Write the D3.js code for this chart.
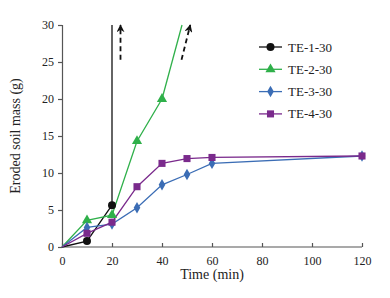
<!DOCTYPE html>
<html>
<head>
<meta charset="utf-8">
<script src="https://cdn.jsdelivr.net/npm/d3@7"></script>
<style>
    body { margin: 0; background: #fff; }
    svg { display: block; font-family: "Liberation Serif", "Times New Roman", serif; }
</style>
</head>
<body>
<svg id="chart" width="390" height="298"></svg>
<script>
// measured times (min)
const times = [0, 10, 20, 30, 40, 50, 60, 120];
const te1 = [0, 0.8, 5.65];
const te2 = [0, 3.6, 4.3, 14.3, 20.0];
const te3 = [0, 2.65, 3.1, 5.3, 8.4, 9.8, 11.3, 12.3];
const te4 = [0, 1.85, 3.35, 8.15, 11.3, 11.95, 12.1, 12.3];
// line runs off the top of the plot after the last measured point
const te1Tail = [[20, 5.65], [20, 30]];
const te2Tail = [[40, 20.0], [48, 30]];
// dashed arrows [x0, y0, x1, y1]
const arrows = [[23.4, 25.3, 23.4, 30], [47.8, 25.3, 51.3, 30]];
const xTicks = [0, 20, 40, 60, 80, 100, 120];
const yTicks = [0, 5, 10, 15, 20, 25, 30];

const seriesNames = ["TE-1-30", "TE-2-30", "TE-3-30", "TE-4-30"];
const seriesColors = ["#111111", "#2fb04a", "#3b6db5", "#7a2a8c"];
const seriesShapes = [d3.symbolCircle, d3.symbolTriangle, d3.symbolDiamond, d3.symbolSquare];
const seriesSizes = [50, 45, 38, 50];

const margin = {top: 25, right: 28, bottom: 51, left: 62};
const width = 390 - margin.left - margin.right;
const height = 298 - margin.top - margin.bottom;

const svg = d3.select("#chart");
const g = svg.append("g").attr("transform", `translate(${margin.left},${margin.top})`);

const x = d3.scaleLinear().domain([0, 120]).range([0, width]);
const y = d3.scaleLinear().domain([0, 30]).range([height, 0]);

const axisColor = "#555";

// y axis
const yAxis = g.append("g")
        .call(d3.axisLeft(y).tickValues(yTicks).tickSize(4).tickPadding(4));
yAxis.selectAll("text").attr("font-size", 12).attr("fill", "#222").attr("font-family", "Liberation Serif");
yAxis.selectAll("line, path").attr("stroke", axisColor).attr("stroke-width", 1.2);

// x axis, ticks pointing up into the plot
const xAxis = g.append("g")
        .attr("transform", `translate(0,${height})`)
        .call(d3.axisBottom(x).tickValues(xTicks).tickSizeInner(-4).tickSizeOuter(0).tickPadding(9));
xAxis.selectAll("text").attr("font-size", 12).attr("fill", "#222").attr("font-family", "Liberation Serif");
xAxis.selectAll("line, path").attr("stroke", axisColor).attr("stroke-width", 1.2);
xAxis.select(".domain").attr("d", `M0,0H${width}`);

svg.append("text")
        .attr("x", margin.left + width / 2)
        .attr("y", 279)
        .attr("text-anchor", "middle")
        .attr("font-size", 14)
        .attr("fill", "#222")
        .text("Time (min)");

svg.append("text")
        .attr("transform", `translate(20,${margin.top + height / 2}) rotate(-90)`)
        .attr("text-anchor", "middle")
        .attr("font-size", 14)
        .attr("fill", "#222")
        .text("Eroded soil mass (g)");

const line = d3.line().x(d => x(d[0])).y(d => y(d[1]));
const allSeries = [te1, te2, te3, te4].map(vals => vals.map((v, i) => [times[i], v]));

const plot = g.append("g");

plot.append("path").datum(te1Tail).attr("d", line)
        .attr("fill", "none").attr("stroke", seriesColors[0]).attr("stroke-width", 1.3);
plot.append("path").datum(te2Tail).attr("d", line)
        .attr("fill", "none").attr("stroke", seriesColors[1]).attr("stroke-width", 1.3);

allSeries.forEach((pts, k) => {
    plot.append("path").datum(pts).attr("d", line)
            .attr("fill", "none").attr("stroke", seriesColors[k]).attr("stroke-width", 1.3);
});

allSeries.forEach((pts, k) => {
    plot.selectAll(".m" + k)
            .data(pts.slice(1))
            .enter().append("path")
            .attr("class", "m" + k)
            .attr("transform", d => `translate(${x(d[0])},${y(d[1])})`)
            .attr("d", d3.symbol().type(seriesShapes[k]).size(seriesSizes[k]))
            .attr("fill", seriesColors[k]);
});

// dashed arrows with small filled heads
svg.append("defs").append("marker")
        .attr("id", "arrowhead")
        .attr("viewBox", "0 0 10 10")
        .attr("refX", 9).attr("refY", 5)
        .attr("markerUnits", "userSpaceOnUse")
        .attr("markerWidth", 8).attr("markerHeight", 8)
        .attr("orient", "auto")
        .append("path")
        .attr("d", "M0,0L10,5L0,10L3,5Z")
        .attr("fill", "#111");

g.selectAll(".arrow")
        .data(arrows)
        .enter().append("line")
        .attr("class", "arrow")
        .attr("x1", d => x(d[0])).attr("y1", d => y(d[1]))
        .attr("x2", d => x(d[2])).attr("y2", d => y(d[3]))
        .attr("stroke", "#111")
        .attr("stroke-width", 1.8)
        .attr("stroke-dasharray", "5,3.5")
        .attr("marker-end", "url(#arrowhead)");

// legend
const legend = svg.selectAll(".legend")
        .data(seriesNames)
        .enter().append("g")
        .attr("class", "legend")
        .attr("transform", (d, i) => `translate(259,${47 + i * 22.3})`);

legend.append("line")
        .attr("x1", 0).attr("x2", 23)
        .attr("stroke", (d, i) => seriesColors[i])
        .attr("stroke-width", 1.3);

legend.append("path")
        .attr("transform", "translate(11.5,0)")
        .attr("d", (d, i) => d3.symbol().type(seriesShapes[i]).size(seriesSizes[i])())
        .attr("fill", (d, i) => seriesColors[i]);

legend.append("text")
        .attr("x", 29)
        .attr("dy", "0.35em")
        .attr("font-size", 13)
        .attr("fill", "#222")
        .text(d => d);
</script>
</body>
</html>
